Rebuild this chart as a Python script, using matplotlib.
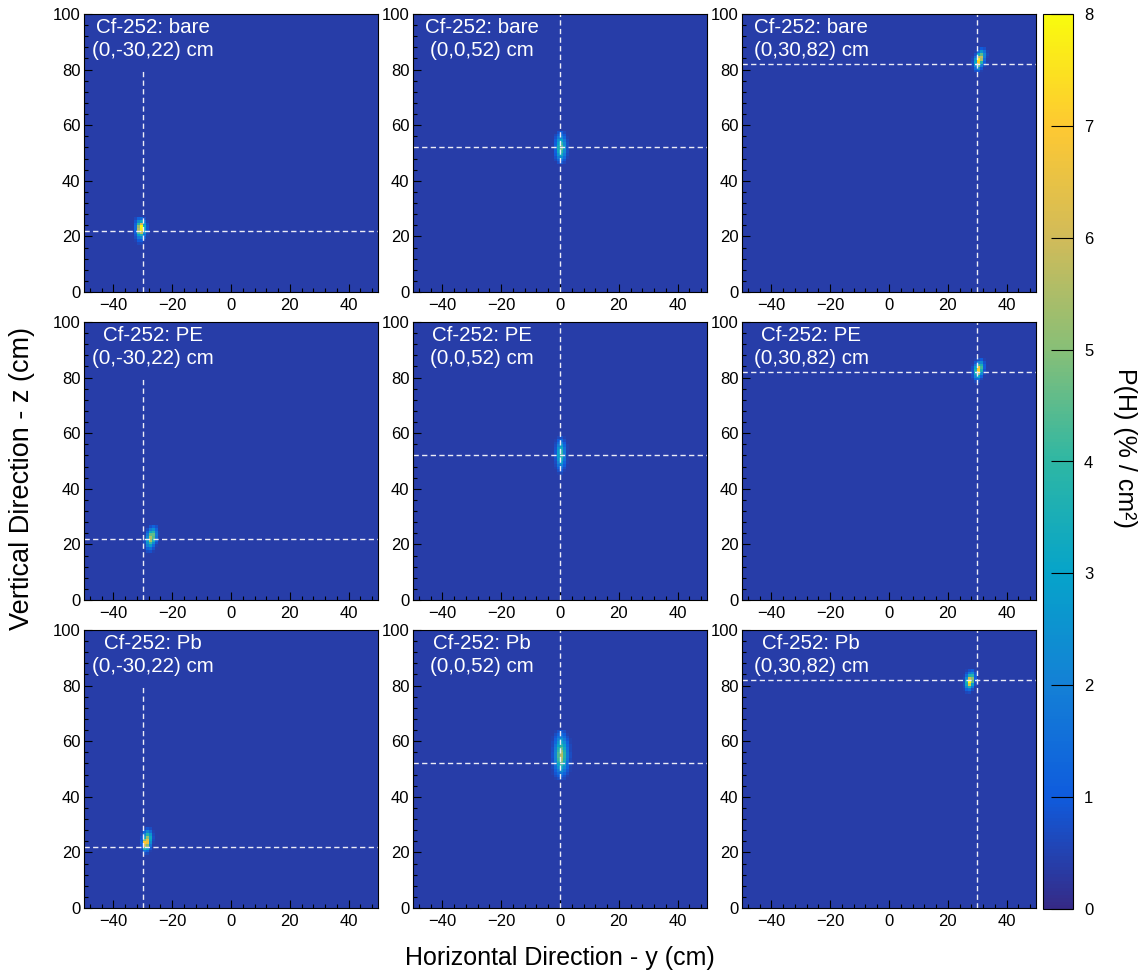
import numpy as np
import matplotlib
matplotlib.use("Agg")
import matplotlib.pyplot as plt
from matplotlib.colors import LinearSegmentedColormap, Normalize
from matplotlib.ticker import MultipleLocator
import matplotlib.cm as cm

plt.rcParams["font.family"] = ["Liberation Sans", "DejaVu Sans"]

# ROOT kBird palette
bird_stops = [0.0, 0.125, 0.25, 0.375, 0.5, 0.625, 0.75, 0.875, 1.0]
bird_r = [0.2082, 0.0592, 0.0780, 0.0232, 0.1802, 0.5301, 0.8186, 0.9956, 0.9764]
bird_g = [0.1664, 0.3599, 0.5041, 0.6419, 0.7178, 0.7492, 0.7328, 0.7862, 0.9832]
bird_b = [0.5293, 0.8684, 0.8385, 0.7914, 0.6425, 0.4662, 0.3499, 0.1968, 0.0539]
bird = LinearSegmentedColormap.from_list(
    "bird", list(zip(bird_stops, zip(bird_r, bird_g, bird_b))), N=255)

shields = ["bare", "PE", "Pb"]
positions = ["(0,-30,22) cm", "(0,0,52) cm", "(0,30,82) cm"]
source_y = [-30, 0, 30]
source_z = [22, 52, 82]
vline_top = [80, 100, 100]
background = 0.4  # P(H) far from the source

# hot spots: lowest y bin, highest z bin, then rows of P(H) (top row first)
bare_left_y0, bare_left_ztop = -33, 26
bare_left = [
    [0.6, 1.2, 1.4, 0.7, 0.4],
    [0.9, 2.4, 3.2, 1.6, 0.5],
    [1.2, 4.0, 6.0, 2.6, 0.7],
    [1.4, 5.2, 7.9, 3.2, 0.8],
    [1.4, 5.6, 7.6, 3.0, 0.8],
    [1.2, 4.4, 5.8, 2.4, 0.6],
    [0.9, 3.0, 3.6, 1.5, 0.5],
    [0.7, 1.8, 2.0, 0.9, 0.4],
    [0.5, 1.0, 1.0, 0.5, 0.4],
    [0.4, 0.6, 0.6, 0.4, 0.4],
]
bare_mid_y0, bare_mid_ztop = -2, 57
bare_mid = [
    [0.4, 0.8, 1.0, 0.6, 0.4],
    [0.6, 1.2, 1.5, 0.9, 0.4],
    [0.8, 1.8, 2.2, 1.3, 0.5],
    [1.0, 2.5, 3.0, 1.8, 0.6],
    [1.1, 3.0, 3.8, 2.2, 0.7],
    [1.2, 3.4, 4.5, 2.5, 0.7],
    [1.2, 3.5, 4.6, 2.6, 0.7],
    [1.1, 3.2, 4.0, 2.3, 0.7],
    [1.0, 2.6, 3.2, 1.9, 0.6],
    [0.8, 1.9, 2.3, 1.4, 0.5],
    [0.6, 1.3, 1.5, 0.9, 0.4],
    [0.4, 0.8, 0.9, 0.6, 0.4],
]
bare_right_y0, bare_right_ztop = 28, 87
bare_right = [
    [0.4, 0.4, 0.6, 1.0, 0.8, 0.4],
    [0.4, 0.5, 1.4, 2.6, 1.6, 0.5],
    [0.4, 0.8, 3.2, 4.5, 2.2, 0.6],
    [0.5, 1.6, 5.6, 5.8, 2.0, 0.5],
    [0.6, 2.6, 7.6, 5.4, 1.5, 0.4],
    [0.7, 3.0, 7.0, 3.8, 1.0, 0.4],
    [0.6, 2.4, 4.6, 2.0, 0.6, 0.4],
    [0.5, 1.4, 2.2, 0.9, 0.4, 0.4],
    [0.4, 0.8, 1.0, 0.5, 0.4, 0.4],
]
pe_left_y0, pe_left_ztop = -30, 26
pe_left = [
    [0.4, 0.4, 0.8, 1.2, 0.8, 0.4],
    [0.4, 0.7, 1.8, 2.4, 1.2, 0.4],
    [0.4, 1.2, 3.2, 3.8, 1.6, 0.5],
    [0.5, 1.8, 4.6, 4.6, 1.8, 0.5],
    [0.6, 2.4, 5.6, 4.4, 1.6, 0.4],
    [0.7, 2.8, 5.4, 3.6, 1.2, 0.4],
    [0.7, 2.6, 4.2, 2.4, 0.8, 0.4],
    [0.6, 2.0, 2.8, 1.4, 0.5, 0.4],
    [0.5, 1.2, 1.5, 0.8, 0.4, 0.4],
    [0.4, 0.7, 0.8, 0.5, 0.4, 0.4],
]
pe_mid_y0, pe_mid_ztop = -2, 58
pe_mid = [
    [0.4, 0.6, 0.8, 0.5, 0.4],
    [0.5, 1.0, 1.3, 0.7, 0.4],
    [0.6, 1.5, 2.0, 1.0, 0.4],
    [0.7, 2.0, 2.7, 1.3, 0.5],
    [0.8, 2.5, 3.3, 1.6, 0.5],
    [0.9, 2.9, 3.8, 1.8, 0.5],
    [0.9, 3.0, 4.0, 1.9, 0.5],
    [0.9, 2.9, 3.8, 1.8, 0.5],
    [0.8, 2.6, 3.3, 1.6, 0.5],
    [0.7, 2.1, 2.7, 1.3, 0.5],
    [0.6, 1.6, 2.0, 1.0, 0.4],
    [0.5, 1.1, 1.4, 0.7, 0.4],
    [0.4, 0.8, 0.9, 0.5, 0.4],
    [0.4, 0.5, 0.6, 0.4, 0.4],
]
pe_right_y0, pe_right_ztop = 28, 86
pe_right = [
    [0.4, 0.5, 0.8, 1.0, 0.5],
    [0.4, 0.9, 2.0, 2.2, 0.8],
    [0.5, 1.8, 4.2, 3.6, 1.0],
    [0.7, 3.0, 6.8, 4.2, 1.0],
    [0.8, 3.6, 7.2, 3.6, 0.8],
    [0.8, 3.2, 5.2, 2.4, 0.6],
    [0.7, 2.2, 3.0, 1.2, 0.4],
    [0.5, 1.2, 1.4, 0.6, 0.4],
    [0.4, 0.6, 0.7, 0.4, 0.4],
]
pb_left_y0, pb_left_ztop = -31, 28
pb_left = [
    [0.4, 0.6, 0.9, 0.7, 0.4],
    [0.5, 1.2, 2.2, 1.5, 0.5],
    [0.6, 2.0, 3.8, 2.6, 0.6],
    [0.8, 3.2, 5.2, 3.2, 0.7],
    [1.0, 5.0, 6.4, 3.0, 0.6],
    [1.2, 7.0, 6.6, 2.4, 0.5],
    [1.0, 6.0, 5.0, 1.6, 0.4],
    [0.8, 3.6, 2.8, 0.9, 0.4],
    [0.5, 1.6, 1.2, 0.5, 0.4],
    [0.4, 0.7, 0.6, 0.4, 0.4],
]
pb_mid_y0, pb_mid_ztop = -3, 63
pb_mid = [
    [0.4, 0.5, 0.8, 0.9, 0.7, 0.4, 0.4],
    [0.4, 0.7, 1.2, 1.4, 1.0, 0.5, 0.4],
    [0.5, 0.9, 1.6, 1.9, 1.4, 0.7, 0.4],
    [0.5, 1.1, 2.1, 2.5, 1.8, 0.9, 0.5],
    [0.6, 1.3, 2.6, 3.1, 2.3, 1.1, 0.5],
    [0.6, 1.6, 3.1, 3.8, 2.8, 1.3, 0.6],
    [0.7, 1.8, 3.6, 4.5, 3.2, 1.5, 0.6],
    [0.7, 2.0, 4.0, 5.1, 3.6, 1.6, 0.6],
    [0.8, 2.1, 4.3, 5.5, 3.8, 1.7, 0.7],
    [0.8, 2.1, 4.3, 5.6, 3.8, 1.7, 0.7],
    [0.7, 2.0, 4.1, 5.3, 3.6, 1.6, 0.6],
    [0.7, 1.9, 3.7, 4.7, 3.3, 1.5, 0.6],
    [0.6, 1.6, 3.1, 4.0, 2.8, 1.3, 0.6],
    [0.6, 1.4, 2.5, 3.2, 2.2, 1.1, 0.5],
    [0.5, 1.1, 1.9, 2.4, 1.7, 0.9, 0.5],
    [0.5, 0.9, 1.4, 1.7, 1.2, 0.7, 0.4],
    [0.4, 0.7, 1.0, 1.1, 0.8, 0.5, 0.4],
    [0.4, 0.5, 0.7, 0.7, 0.6, 0.4, 0.4],
]
pb_right_y0, pb_right_ztop = 25, 85
pb_right = [
    [0.4, 0.5, 0.8, 1.0, 0.5],
    [0.4, 0.8, 1.8, 2.2, 0.8],
    [0.5, 1.4, 3.6, 3.8, 1.0],
    [0.6, 2.4, 6.0, 5.0, 1.0],
    [0.7, 3.4, 8.0, 4.6, 0.8],
    [0.7, 3.2, 6.4, 3.0, 0.6],
    [0.6, 2.2, 3.6, 1.6, 0.4],
    [0.5, 1.2, 1.6, 0.7, 0.4],
    [0.4, 0.6, 0.7, 0.4, 0.4],
]

spots = [
    [(bare_left_y0, bare_left_ztop, bare_left), (bare_mid_y0, bare_mid_ztop, bare_mid),
     (bare_right_y0, bare_right_ztop, bare_right)],
    [(pe_left_y0, pe_left_ztop, pe_left), (pe_mid_y0, pe_mid_ztop, pe_mid),
     (pe_right_y0, pe_right_ztop, pe_right)],
    [(pb_left_y0, pb_left_ztop, pb_left), (pb_mid_y0, pb_mid_ztop, pb_mid),
     (pb_right_y0, pb_right_ztop, pb_right)],
]

y_edges = np.arange(-50, 51)
z_edges = np.arange(0, 101)
norm = Normalize(0, 8)

W, H = 1143, 971
fig = plt.figure(figsize=(W / 100, H / 100), dpi=100)

col_left = [84, 413, 742]
row_top = [14, 322, 630]
pw, ph = 294, 278

for r in range(3):
    for c in range(3):
        ax = fig.add_axes([col_left[c] / W, 1 - (row_top[r] + ph) / H, pw / W, ph / H])
        grid = np.full((100, 100), background)
        y0, ztop, vals = spots[r][c]
        for i, row in enumerate(vals):
            for j, v in enumerate(row):
                grid[ztop - i, y0 + j + 50] = v
        ax.pcolormesh(y_edges, z_edges, grid, cmap=bird, norm=norm, rasterized=True)
        ax.set_xlim(-50, 50)
        ax.set_ylim(0, 100)

        dash = dict(color="#ececf6", lw=1.0, dashes=(3.8, 2.4))
        ax.plot([source_y[c], source_y[c]], [0, vline_top[c]], **dash)
        ax.plot([-50, 50], [source_z[c], source_z[c]], **dash)

        ax.text(0.235, 0.953, "Cf-252: " + shields[r], transform=ax.transAxes,
                color="white", fontsize=14.8, ha="center", va="center")
        ax.text(0.235, 0.870, positions[c], transform=ax.transAxes,
                color="white", fontsize=14.8, ha="center", va="center")

        ax.set_xticks([-40, -20, 0, 20, 40])
        ax.set_yticks([0, 20, 40, 60, 80, 100])
        ax.xaxis.set_minor_locator(MultipleLocator(4))
        ax.yaxis.set_minor_locator(MultipleLocator(4))
        ax.tick_params(which="both", direction="in", colors="black", width=0.8,
                       labelsize=12, top=False, right=False)
        ax.tick_params(which="major", length=6)
        ax.tick_params(which="minor", length=3)
        ax.tick_params(axis="y", pad=2.5)
        ax.tick_params(axis="x", pad=4)
        for s in ax.spines.values():
            s.set_linewidth(0.8)

cax = fig.add_axes([1043 / W, 1 - 909 / H, 30 / W, 895 / H])
cb = fig.colorbar(cm.ScalarMappable(norm=norm, cmap=bird), cax=cax)
cb.set_ticks(range(9))
cb.outline.set_linewidth(0.8)
cax.tick_params(direction="in", length=16, width=0.8, labelsize=12, pad=8)
cax.minorticks_off()

fig.text(1125 / W, 1 - 448 / H, "P(H) (% / cm²)", rotation=270,
         ha="center", va="center", fontsize=18)
fig.text(560 / W, 1 - 958 / H, "Horizontal Direction - y (cm)",
         ha="center", va="center", fontsize=18)
fig.text(22 / W, 1 - 479 / H, "Vertical Direction - z (cm)", rotation=90,
         ha="center", va="center", fontsize=19.5)

fig.savefig("out.png", dpi=100)
